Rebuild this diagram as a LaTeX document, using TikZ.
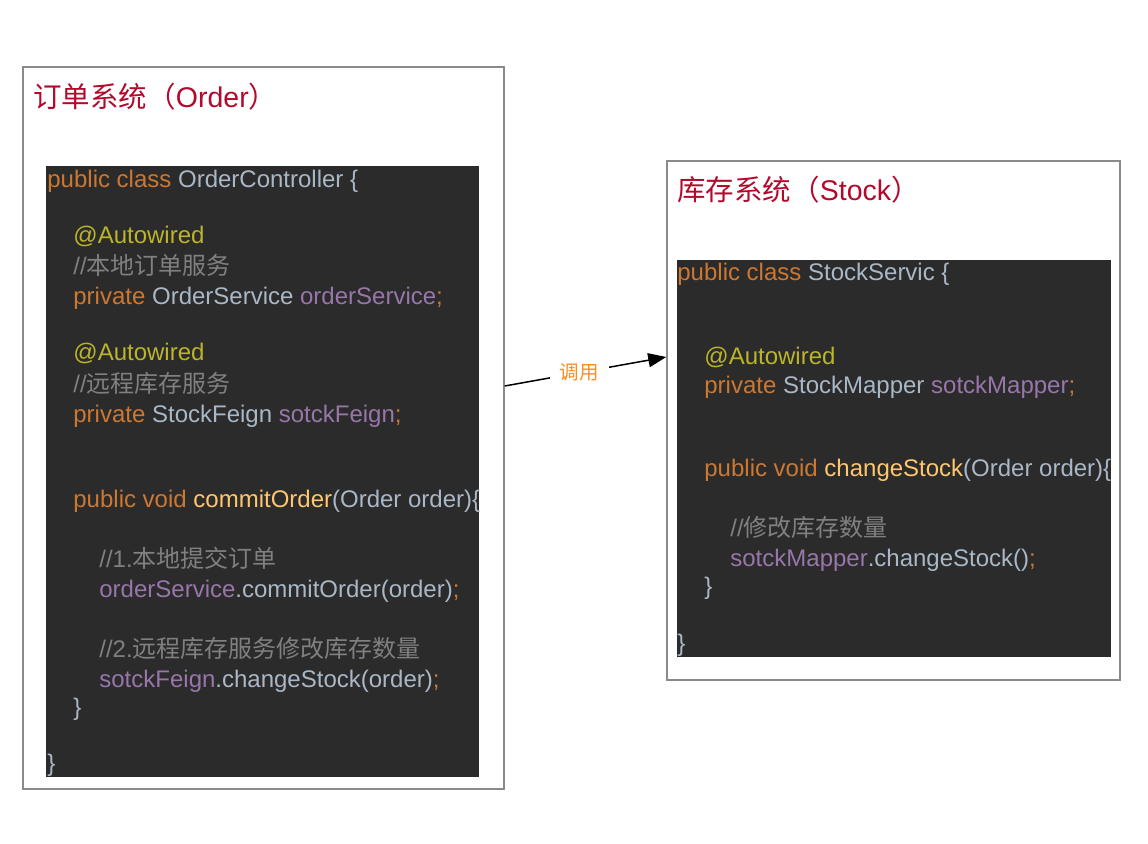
\documentclass[tikz,border=0pt]{standalone}
\usepackage{fontspec}
\setmainfont{Liberation Sans}
\newfontfamily\cjk{Noto Sans CJK SC}
\usepackage{tikz}
\usetikzlibrary{positioning,arrows.meta}
\usepackage{xcolor}

\definecolor{titlered}{HTML}{B20A2C}
\definecolor{callorange}{HTML}{FF8C1A}
\definecolor{boxgray}{HTML}{8A8A8A}
\definecolor{codebg}{HTML}{2B2B2B}
\definecolor{kwcol}{HTML}{CC7832}
\definecolor{plaincol}{HTML}{A9B7C6}
\definecolor{annocol}{HTML}{BBB529}
\definecolor{cmntcol}{HTML}{808080}
\definecolor{fieldcol}{HTML}{9876AA}
\definecolor{methcol}{HTML}{FFC66D}

\newcommand{\kwd}[1]{\textcolor{kwcol}{#1}}
\newcommand{\clsn}[1]{\textcolor{plaincol}{#1}}
\newcommand{\anno}[1]{\textcolor{annocol}{#1}}
\newcommand{\cmnt}[1]{\textcolor{cmntcol}{#1}}
\newcommand{\fieldn}[1]{\textcolor{fieldcol}{#1}}
\newcommand{\methn}[1]{\textcolor{methcol}{#1}}

\tikzset{
	sysbox/.style={draw=boxgray,line width=0.75pt,fill=white,inner sep=0pt},
	codebox/.style={fill=codebg,inner sep=0pt},
	systitle/.style={anchor=base west,inner sep=0pt,text=titlered,font=\fontsize{14.25}{17}\selectfont},
	code/.style={anchor=base west,inner sep=0pt,font=\fontsize{12}{14}\selectfont},
	call/.style={-{Triangle[length=9pt,width=7pt]},line width=0.75pt}
}

\begin{document}
\begin{tikzpicture}[x=0.5pt,y=-0.5pt]
		
		\useasboundingbox (0,0) rectangle (1148,844);
		
		% order system
		\node[sysbox,minimum width=240.5pt,minimum height=361pt]
		(order) at (263.5,428) {};
		\node[systitle] (orderTitle) at (33,108)
		{{\cjk 订单系统（}Order{\cjk ）}};
		\node[codebox,minimum width=216.5pt,minimum height=305.5pt]
		(orderCode) at (262.5,471.5) {};
		
		\begin{scope}
			\clip (orderCode.south west) rectangle (orderCode.north east);
			\foreach \x/\y/\txt [count=\i] in
			{
				47/188/{\kwd{public class} \clsn{OrderController \{}},
				73/244/{\anno{@Autowired}},
				73/275/{\cmnt{//{\cjk 本地订单服务}}},
				73/305/{\kwd{private} \clsn{OrderService} \fieldn{orderService}\kwd{;}},
				73/361/{\anno{@Autowired}},
				73/393/{\cmnt{//{\cjk 远程库存服务}}},
				73/423/{\kwd{private} \clsn{StockFeign} \fieldn{sotckFeign}\kwd{;}},
				73/508/{\kwd{public void} \methn{commitOrder}\clsn{(Order order)\{}},
				99/568/{\cmnt{//1.{\cjk 本地提交订单}}},
				99/598/{\fieldn{orderService}\clsn{.commitOrder(order)}\kwd{;}},
				99/658/{\cmnt{//2.{\cjk 远程库存服务修改库存数量}}},
				99/688/{\fieldn{sotckFeign}\clsn{.changeStock(order)}\kwd{;}},
				73/716/{\clsn{\}}},
				47/772/{\clsn{\}}}
			}
			{
				\node[code] (orderLine\i) at (\x,\y) {\txt};
			}
		\end{scope}
		
		% stock system
		\node[sysbox,minimum width=226.5pt,minimum height=259.5pt]
		(stock) at (893.5,420.5) {};
		\node[systitle] (stockTitle) at (677,201)
		{{\cjk 库存系统（}Stock{\cjk ）}};
		\node[codebox,minimum width=217pt,minimum height=198.5pt]
		(stockCode) at (894,458.5) {};
		
		\begin{scope}
			\clip (stockCode.south west) rectangle (stockCode.north east);
			\foreach \x/\y/\txt [count=\i] in
			{
				677/281/{\kwd{public class} \clsn{StockServic \{}},
				704/365/{\anno{@Autowired}},
				704/394/{\kwd{private} \clsn{StockMapper} \fieldn{sotckMapper}\kwd{;}},
				704/477/{\kwd{public void} \methn{changeStock}\clsn{(Order order)\{}},
				730/537/{\cmnt{//{\cjk 修改库存数量}}},
				730/567/{\fieldn{sotckMapper}\clsn{.changeStock()}\kwd{;}},
				704/595/{\clsn{\}}},
				677/652/{\clsn{\}}}
			}
			{
				\node[code] (stockLine\i) at (\x,\y) {\txt};
			}
		\end{scope}
		
		\draw[call]
		([yshift=21pt]order.east)
		--
		node[pos=0.46,fill=white,inner xsep=5pt,inner ysep=2pt,text=callorange,font=\cjk\fontsize{9.75}{11}\selectfont] (callLabel) {调用}
		([yshift=31.75pt]stock.west);
		
	\end{tikzpicture}
\end{document}
